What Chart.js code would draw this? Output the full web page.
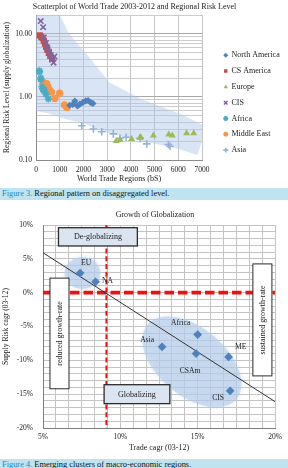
<!DOCTYPE html>
<html>
<head>
<meta charset="utf-8">
<script src="https://cdn.jsdelivr.net/npm/chart.js@4.4.1/dist/chart.umd.min.js"></script>
<style>
  body { margin:0; width:288px; height:468px; overflow:hidden; background:#fff; position:relative;
         font-family:'Liberation Serif','Times New Roman',serif; }
  .fig { position:absolute; left:0; width:288px; }
  #fig3 { top:0; height:186px; }
  #fig4 { top:205px; height:252px; }
  .caption { position:absolute; left:0; width:286px; padding-left:2px; height:12px; line-height:12px;
             background:#bfe3ef; font-size:8.4px; color:#111; white-space:nowrap; }
  .caption span { color:#1f8ac6; }
</style>
</head>
<body>
<div class="fig" id="fig3"><canvas id="scatterRisk"></canvas></div>
<div class="caption" style="top:188px"><span>Figure 3.</span> Regional pattern on disaggregated level.</div>
<div class="fig" id="fig4"><canvas id="growthGlob"></canvas></div>
<div class="caption" style="top:459px"><span>Figure 4.</span> Emerging clusters of macro-economic regions.</div>
<script>
Chart.defaults.font.family = "'Liberation Serif', 'Times New Roman', serif";
Chart.defaults.color = '#222';
Chart.defaults.animation = false;

// figure 3 - world trade (bS) vs regional risk level, 2003-2012
const regionNames = ['North America', 'CS America', 'Europe', 'CIS', 'Africa', 'Middle East', 'Asia'];
const naTrade = [1420, 1550, 1640, 1750, 1850, 1980, 2100, 2200, 2300, 2400];
const naRisk = [0.74, 0.76, 0.86, 0.72, 0.77, 0.82, 0.87, 0.88, 0.82, 0.79];
const csaTrade = [160, 220, 280, 330, 380, 430, 480, 540, 600, 680];
const csaRisk = [9.5, 9.0, 8.6, 7.8, 7.0, 6.2, 5.6, 5.0, 4.5, 4.1];
const euTrade = [3380, 3550, 4030, 4380, 4420, 4950, 5600, 5750, 6350, 6650];
const euRisk = [0.20, 0.21, 0.215, 0.225, 0.23, 0.245, 0.255, 0.245, 0.265, 0.265];
const cisTrade = [200, 300, 330, 420, 480, 550, 620, 680, 740, 780];
const cisRisk = [16, 12.8, 8.8, 7.2, 6.0, 5.2, 4.6, 3.9, 3.5, 4.4];
const afTrade = [140, 150, 200, 210, 250, 290, 330, 350, 420, 520];
const afRisk = [2.6, 2.5, 2.0, 1.9, 1.45, 1.35, 1.25, 1.3, 1.1, 0.93];
const meTrade = [300, 380, 450, 500, 560, 650, 800, 1000, 1200, 1300];
const meRisk = [1.7, 1.55, 1.62, 1.45, 1.3, 1.2, 0.95, 1.15, 0.75, 0.68];
const asTrade = [1930, 2420, 2770, 3260, 3540, 3800, 4390, 4670, 5580, 5650];
const asRisk = [0.35, 0.31, 0.28, 0.26, 0.22, 0.23, 0.22, 0.18, 0.176, 0.165];

const tradeTicks = [0, 1000, 2000, 3000, 4000, 5000, 6000, 7000];
const riskLabelTicks = [0.1, 1, 10];

// shaded band behind the scatter (upper edge left->right, lower edge right->left)
const bandUpperTrade = [0, 1000, 1400, 2000, 3100, 4500, 6200, 7200];
const bandUpperRisk = [20, 20, 10, 5.5, 1.7, 0.9, 0.52, 0.33];
const bandLowerTrade = [6800, 6000, 4500, 3000, 2000, 1200, 500, 0];
const bandLowerRisk = [0.12, 0.15, 0.2, 0.27, 0.38, 0.45, 0.55, 0.6];

// figure 4 - growth of globalization
const clusterRegions = ['EU', 'NA', 'Africa', 'Asia', 'CSAm', 'ME', 'CIS'];
const tradeCagr = [7.4, 8.4, 15.0, 12.7, 14.9, 17.0, 17.1];
const riskCagr = [2.9, 1.6, -6.2, -8.0, -9.0, -9.5, -14.5];
const trendTrade = [5, 20];
const trendRisk = [5.9, -16.1];
const tradeThreshold = 9.1;
const riskThreshold = 0;
const cagrTickLabels = [5, 10, 15, 20];
const riskCagrTickLabels = [-20, -15, -10, -5, 0, 5, 10];

// log grid lines 0.1 .. 20
const logGrid = [];
[0.1, 1, 10].forEach(d => {
    for (let m = 1; m <= 9; m++) {
        const v = +(m * d).toPrecision(2);
        if (v <= 20) logGrid.push(v);
    }
});

const near = (v, list) => list.some(t => Math.abs(t - v) < 1e-6);

// nudge title / legend after layout
const nudge = {
    id: 'nudge',
    beforeLayout(chart, args, opts) {
        const lg = chart.legend;
        if (opts.legendWidth && lg && !lg._fixed) {
            const fit = lg.fit.bind(lg);
            lg.fit = () => { fit(); lg.width = opts.legendWidth; };
            lg._fixed = true;
        }
    },
    afterLayout(chart, args, opts) {
        if (opts.titleDx && chart.titleBlock) {
            chart.titleBlock.left += opts.titleDx;
            chart.titleBlock.right += opts.titleDx;
        }
        if (opts.legendLeft != null && chart.legend) {
            const lg = chart.legend;
            lg.left = opts.legendLeft;
            lg.right = opts.legendLeft + lg.width;
            lg.top = opts.legendTop;
            lg.bottom = chart.height;
        }
    }
};

const riskBand = {
    id: 'riskBand',
    beforeDatasetsDraw(chart, args, opts) {
        const {ctx, chartArea: a, scales: {x, y}} = chart;
        const xs = bandUpperTrade.concat(bandLowerTrade);
        const ys = bandUpperRisk.concat(bandLowerRisk);
        ctx.save();
        ctx.beginPath();
        ctx.rect(a.left, a.top, a.width, a.height);
        ctx.clip();
        ctx.beginPath();
        xs.forEach((v, i) => {
            const px = x.getPixelForValue(v), py = y.getPixelForValue(ys[i]);
            if (i) ctx.lineTo(px, py); else ctx.moveTo(px, py);
        });
        ctx.closePath();
        ctx.fillStyle = opts.color;
        ctx.fill();
        ctx.restore();
    }
};

const markerStyles = ['rectRot', 'rect', 'triangle', 'crossRot', 'star', 'circle', 'cross'];
const markerColors = ['#4f81bd', '#c0504d', '#9bbb59', '#8064a2', '#4bacc6', '#f79646', '#95b3d7'];
const markerSizes = [3.6, 4.4, 4, 3.8, 3.6, 3.7, 3.8];
const tradeSeries = [naTrade, csaTrade, euTrade, cisTrade, afTrade, meTrade, asTrade];
const riskSeries = [naRisk, csaRisk, euRisk, cisRisk, afRisk, meRisk, asRisk];

const scatterChart = new Chart(document.getElementById('scatterRisk'), {
    type: 'scatter',
    data: {
        datasets: regionNames.map((name, i) => {
            const stroked = ['crossRot', 'star', 'cross'].includes(markerStyles[i]);
            return {
                label: name,
                data: tradeSeries[i].map((t, j) => ({x: t, y: riskSeries[i][j]})),
                pointStyle: markerStyles[i],
                pointRadius: markerSizes[i],
                backgroundColor: markerColors[i],
                borderColor: markerColors[i],
                borderWidth: stroked ? 1.6 : 0,
                order: name === 'CIS' ? -1 : i
            };
        })
    },
    options: {
        responsive: true,
        maintainAspectRatio: false,
        layout: {padding: {left: 0, right: 19, top: 0, bottom: 0}},
        plugins: {
            title: {
                display: true,
                text: 'Scatterplot of World Trade 2003-2012 and Regional Risk Level',
                font: {size: 8, weight: 'normal'},
                padding: {top: 2, bottom: 3.4}
            },
            legend: {
                position: 'right',
                align: 'start',
                labels: {
                    usePointStyle: true, boxWidth: 3.5, boxHeight: 3.5, padding: 7.8,
                    font: {size: 8}, color: '#222',
                    sort: (a, b) => a.datasetIndex - b.datasetIndex
                }
            },
            tooltip: {enabled: false},
            riskBand: {color: 'rgba(170, 198, 232, 0.45)'},
            nudge: {legendWidth: 67, legendLeft: 216.2, legendTop: 43.5}
        },
        scales: {
            x: {
                type: 'linear', min: 0, max: 7000,
                afterBuildTicks: s => { s.ticks = tradeTicks.map(v => ({value: v})); },
                ticks: {font: {size: 7.5}, padding: 5.5, autoSkip: false, maxRotation: 0, callback: v => String(v)},
                grid: {color: '#c4c4c4', drawTicks: false},
                border: {color: '#8c8c8c'},
                title: {display: true, text: 'World Trade Regions (bS)', font: {size: 8}, padding: {top: 0, bottom: 2}},
                afterFit: s => { s.height = 26; }
            },
            y: {
                type: 'logarithmic', min: 0.1, max: 20,
                afterBuildTicks: s => { s.ticks = logGrid.map(v => ({value: v})); },
                ticks: {
                    font: {size: 7.5}, padding: 4, autoSkip: false,
                    callback: v => near(v, riskLabelTicks) ? v.toFixed(2) : ''
                },
                grid: {
                    color: c => near(c.tick.value, riskLabelTicks) ? '#a8a8a8' : '#cccccc',
                    drawTicks: false
                },
                border: {color: '#8c8c8c'},
                title: {display: true, text: 'Regional Risk Level (supply globalization)', font: {size: 7.6}, padding: {top: 2.5, bottom: 0}},
                afterFit: s => { s.width = 36; }
            }
        }
    },
    plugins: [riskBand, nudge]
});

// ---- figure 4 ----
const clusterHalos = {
    id: 'clusterHalos',
    beforeDatasetsDraw(chart, args, opts) {
        const {ctx, scales: {x, y}} = chart;
        ctx.save();
        ctx.fillStyle = opts.color;
        ctx.shadowColor = opts.color;
        ctx.shadowBlur = 5;
        opts.items.forEach(h => {
            ctx.beginPath();
            ctx.ellipse(x.getPixelForValue(h.x), y.getPixelForValue(h.y), h.rx, h.ry, h.rot * Math.PI / 180, 0, Math.PI * 2);
            ctx.fill();
        });
        ctx.restore();

        // red dashed threshold lines
        const a = chart.chartArea;
        const tx = x.getPixelForValue(tradeThreshold);
        const ty = y.getPixelForValue(riskThreshold);
        ctx.save();
        ctx.strokeStyle = '#f01010';
        ctx.lineWidth = 2;
        ctx.setLineDash([5, 2.8]);
        ctx.beginPath();
        ctx.moveTo(tx, a.top);
        ctx.lineTo(tx, a.bottom);
        ctx.stroke();
        ctx.lineWidth = 3.8;
        ctx.setLineDash([9.5, 4]);
        ctx.beginPath();
        ctx.moveTo(a.left, ty);
        ctx.lineTo(a.right, ty);
        ctx.stroke();
        ctx.restore();
    }
};

const zoneBoxes = {
    id: 'zoneBoxes',
    afterDatasetsDraw(chart, args, opts) {
        const {ctx, scales: {x, y}} = chart;
        ctx.save();
        opts.boxes.forEach(b => {
            const l = x.getPixelForValue(b.x0), r = x.getPixelForValue(b.x1);
            const t = y.getPixelForValue(b.y1), btm = y.getPixelForValue(b.y0);
            ctx.fillStyle = b.fill;
            ctx.fillRect(l, t, r - l, btm - t);
            ctx.strokeStyle = '#2b2b2b';
            ctx.lineWidth = b.lw;
            ctx.strokeRect(l, t, r - l, btm - t);
            ctx.fillStyle = '#222';
            ctx.font = "8px 'Liberation Serif', serif";
            ctx.textAlign = 'center';
            ctx.textBaseline = 'middle';
            ctx.save();
            ctx.translate((l + r) / 2, (t + btm) / 2);
            if (b.vertical) ctx.rotate(-Math.PI / 2);
            ctx.fillText(b.text, 0, 0.5);
            ctx.restore();
        });
        // region labels
        ctx.font = "7.6px 'Liberation Serif', serif";
        ctx.fillStyle = '#222';
        ctx.textAlign = 'center';
        ctx.textBaseline = 'middle';
        clusterRegions.forEach((name, i) => {
            const off = opts.labelOffsets[i];
            ctx.fillText(name, x.getPixelForValue(tradeCagr[i]) + off[0], y.getPixelForValue(riskCagr[i]) + off[1]);
        });
        ctx.restore();
    }
};

const xMinor = [];
for (let i = 0; i <= 18; i++) xMinor.push(5 + i * 5 / 6);
const yMinor = [];
for (let v = -20; v <= 10; v++) yMinor.push(v);

const growthChart = new Chart(document.getElementById('growthGlob'), {
    type: 'scatter',
    data: {
        datasets: [{
            label: 'regions',
            data: tradeCagr.map((t, i) => ({x: t, y: riskCagr[i]})),
            pointStyle: 'rectRot',
            pointRadius: 4.4,
            backgroundColor: '#4f81bd',
            borderWidth: 0,
            order: 0
        }, {
            label: 'trend',
            data: trendTrade.map((t, i) => ({x: t, y: trendRisk[i]})),
            showLine: true,
            borderColor: '#333',
            borderWidth: 1,
            pointRadius: 0,
            order: 1
        }]
    },
    options: {
        responsive: true,
        maintainAspectRatio: false,
        layout: {padding: {left: 0, right: 13, top: 0, bottom: 0}},
        plugins: {
            title: {
                display: true,
                text: 'Growth of Globalization',
                font: {size: 8, weight: 'normal'},
                padding: {top: 5, bottom: 5.4}
            },
            legend: {display: false},
            tooltip: {enabled: false},
            nudge: {titleDx: 17.5},
            clusterHalos: {
                color: 'rgba(178, 203, 234, 0.6)',
                items: [
                    {x: 7.55, y: 2.9, rx: 18, ry: 16, rot: 0},
                    {x: 14.63, y: -10.24, rx: 58, ry: 34, rot: 40}
                ]
            },
            zoneBoxes: {
                boxes: [
                    {x0: 6.0, x1: 11.1, y0: 6.9, y1: 9.6, text: 'De-globalizing', fill: '#dbe5f1', lw: 1.3},
                    {x0: 8.95, x1: 13.2, y0: -16.4, y1: -13.6, text: 'Globalizing', fill: '#dbe5f1', lw: 1.3},
                    {x0: 5.45, x1: 6.68, y0: -14.2, y1: 2.15, text: 'reduced growth-rate', fill: '#fff', lw: 1, vertical: true},
                    {x0: 18.57, x1: 19.8, y0: -12.3, y1: 4.25, text: 'sustained growth-rate', fill: '#fff', lw: 1, vertical: true}
                ],
                labelOffsets: [[6, -10], [12, -1], [-17, -12], [-15, -7], [-6, 17], [12, -10], [-12, 7]]
            }
        },
        scales: {
            x: {
                type: 'linear', min: 5, max: 20,
                afterBuildTicks: s => { s.ticks = xMinor.map(v => ({value: v})); },
                ticks: {
                    font: {size: 7.5}, padding: 4.5, autoSkip: false, maxRotation: 0,
                    callback: v => near(v, cagrTickLabels) ? Math.round(v) + '%' : ''
                },
                grid: {color: '#c4c4c4', drawTicks: false},
                border: {color: '#7f7f7f'},
                title: {display: true, text: 'Trade cagr (03-12)', font: {size: 8}, padding: {top: 0, bottom: 4}},
                afterFit: s => { s.height = 29; }
            },
            y: {
                type: 'linear', min: -20, max: 10,
                afterBuildTicks: s => { s.ticks = yMinor.map(v => ({value: v})); },
                ticks: {
                    font: {size: 7.5}, padding: 10, autoSkip: false,
                    callback: v => near(v, riskCagrTickLabels) ? Math.round(v) + '%' : ''
                },
                grid: {color: '#c4c4c4', drawTicks: false},
                border: {color: '#7f7f7f'},
                title: {display: true, text: 'Supply Risk cagr (03-12)', font: {size: 7.6}, padding: {top: 1.5, bottom: 0}},
                afterFit: s => { s.width = 43; }
            }
        }
    },
    plugins: [clusterHalos, zoneBoxes, nudge]
});
</script>
</body>
</html>
